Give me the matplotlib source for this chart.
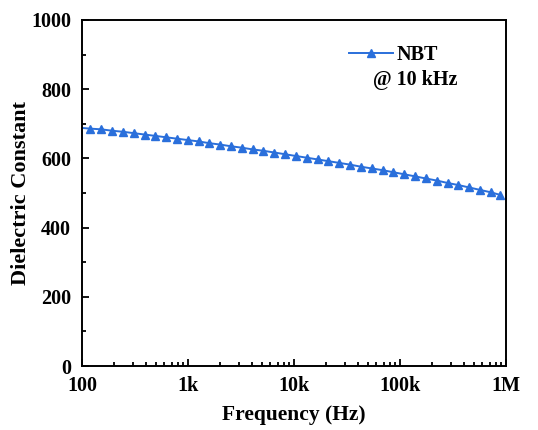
import numpy as np
import matplotlib
matplotlib.use("Agg")
import matplotlib.pyplot as plt
from matplotlib.ticker import FixedLocator, LogLocator, NullFormatter, MultipleLocator

freq = [100, 120, 152, 192, 243, 307, 389, 492, 622, 787, 996,
        1260, 1590, 2010, 2550, 3220, 4070, 5150, 6520, 8250, 10400,
        13200, 16700, 21100, 26700, 33800, 42800, 54100, 68400, 86600, 110000,
        139000, 175000, 222000, 281000, 355000, 449000, 568000, 719000, 870000]
eps = [688, 686, 684, 680, 677, 673, 669, 665, 661, 657, 653,
       649, 644, 640, 635, 631, 626, 622, 617, 612, 607,
       602, 597, 592, 587, 582, 576, 571, 566, 560, 554,
       548, 542, 536, 529, 523, 516, 509, 502, 495, 488]
eps = eps[:len(freq)]

xticks = [100, 1e3, 1e4, 1e5, 1e6]
xlabels = ["100", "1k", "10k", "100k", "1M"]

plt.rcParams['font.family'] = ['Liberation Serif', 'DejaVu Serif']
plt.rcParams['font.weight'] = 'bold'

fig = plt.figure(figsize=(5.38, 4.30), dpi=100)
ax = fig.add_axes([82 / 538, 1 - 366 / 430, (506 - 82) / 538, (366 - 20) / 430])

color = '#2a6fdb'
ax.plot(freq, eps, color=color, lw=1.4, marker='^', markersize=6,
        markevery=list(range(1, len(freq))), label='NBT')

ax.set_xscale('log')
ax.set_xlim(100, 1e6)
ax.set_ylim(0, 1000)
ax.xaxis.set_major_locator(FixedLocator(xticks))
ax.set_xticklabels(xlabels)
ax.xaxis.set_minor_locator(LogLocator(base=10, subs=np.arange(2, 10)))
ax.xaxis.set_minor_formatter(NullFormatter())
ax.yaxis.set_major_locator(MultipleLocator(200))
ax.yaxis.set_minor_locator(MultipleLocator(100))

ax.tick_params(which='both', direction='in', top=False, right=False,
               labelsize=14.5, width=1.3)
ax.tick_params(axis='x', pad=7)
ax.tick_params(axis='y', pad=8)
ax.tick_params(which='major', length=5)
ax.tick_params(which='minor', length=3)
for s in ax.spines.values():
    s.set_linewidth(1.4)
for lab in ax.get_xticklabels() + ax.get_yticklabels():
    lab.set_fontweight('bold')

ax.set_xlabel('Frequency (Hz)', fontsize=15.5, fontweight='bold', labelpad=7)
ax.set_ylabel('Dielectric Constant', fontsize=16, fontweight='bold', labelpad=0)

leg = ax.legend(loc='upper left', bbox_to_anchor=(0.61, 0.95), frameon=False,
                prop={'size': 14.5, 'weight': 'bold'}, handlelength=2.2,
                handletextpad=0.2, borderaxespad=0)
ax.text(0.687, 0.826, '@ 10 kHz', transform=ax.transAxes, fontsize=14.5,
        fontweight='bold', ha='left', va='center')

fig.savefig('out.png', dpi=100)
